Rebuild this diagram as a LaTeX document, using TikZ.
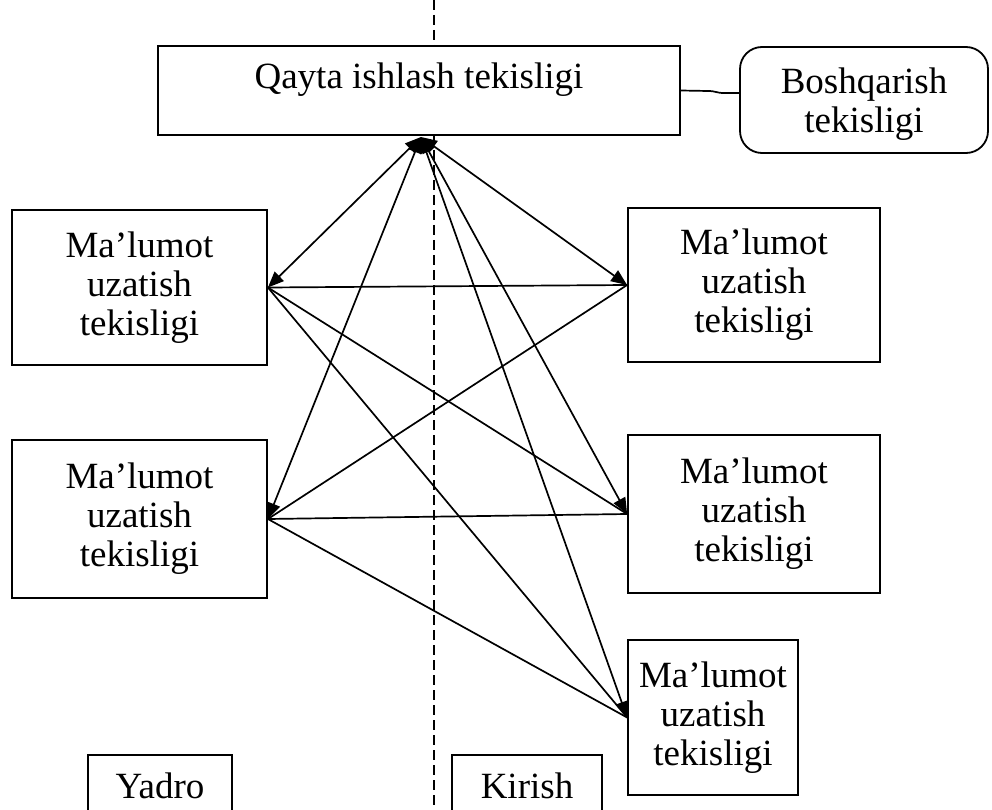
\documentclass[tikz,border=0pt]{standalone}
\usepackage{fontspec}
\setmainfont{Liberation Serif}
\usetikzlibrary{arrows.meta}
\begin{document}
\begin{tikzpicture}[x=1pt,y=-1pt,
  box/.style={draw,line width=1.8pt,fill=white,rectangle,inner sep=0pt},
  lbl/.style={font=\fontsize{37}{39}\selectfont,align=center,inner sep=0pt},
  conn/.style={line width=1.7pt},
  biarrow/.style={conn,{Triangle[length=16pt,width=13pt]}-{Triangle[length=16pt,width=13pt]}},
  divider/.style={line width=2pt,dash pattern=on 10pt off 5pt}
]
\clip (0,0) rectangle (992,810);
\fill[white] (0,0) rectangle (992,810);
\coordinate (dtop) at (434,0);
\coordinate (dbot) at (434,810);
\draw[divider] (dtop) -- (dbot);

% top boxes
\node[box,minimum width=522pt,minimum height=89pt] (qayta) at (419,90.5) {};
\node[lbl] (qaytatxt) at (419,80) {Qayta ishlash tekisligi};
\node[box,rounded corners=22pt,minimum width=248pt,minimum height=106pt] (bosh) at (864,100) {};
\node[lbl] (boshtxt) at (864,104) {Boshqarish\\tekisligi};

% left boxes
\node[box,lbl,minimum width=255pt,minimum height=155pt] (l1) at (139.5,287.5) {Ma’lumot\\uzatish\\tekisligi};
\node[box,lbl,minimum width=255pt,minimum height=158pt] (l2) at (139.5,519) {Ma’lumot\\uzatish\\tekisligi};

% right boxes
\node[box,lbl,minimum width=252pt,minimum height=154pt] (r1) at (754,285) {Ma’lumot\\uzatish\\tekisligi};
\node[box,lbl,minimum width=252pt,minimum height=158pt] (r2) at (754,514) {Ma’lumot\\uzatish\\tekisligi};
\node[box,lbl,minimum width=170pt,minimum height=155pt] (r3) at (713,717.5) {Ma’lumot\\uzatish\\tekisligi};

% bottom labels
\node[box,lbl,minimum width=144pt,minimum height=62pt] (yadro) at (160,786) {Yadro};
\node[box,lbl,minimum width=150pt,minimum height=62pt] (kirish) at (527,786) {Kirish};

% connector to Boshqarish
\coordinate (cb1) at (708,91);
\coordinate (cb2) at (724,93);
\draw[conn] (qayta.east) -- (cb1) .. controls (716,91) and (716,93) .. (cb2) -- (bosh.west |- cb2);

% hub
\coordinate (hub) at (421,137);
\draw[biarrow] (hub) -- (l1.east);
\draw[biarrow] (hub) -- (l2.east);
\draw[biarrow] (hub) -- (r1.west);
\draw[biarrow] (hub) -- (r2.west);
\draw[biarrow] (hub) -- (r3.west);

% cross links
\draw[conn] (l1.east) -- (r1.west);
\draw[conn] (l1.east) -- (r2.west);
\draw[conn] (l1.east) -- (r3.west);
\draw[conn] (r1.west) -- (l2.east);
\draw[conn] (l2.east) -- (r2.west);
\draw[conn] (l2.east) -- (r3.west);
\end{tikzpicture}
\end{document}
